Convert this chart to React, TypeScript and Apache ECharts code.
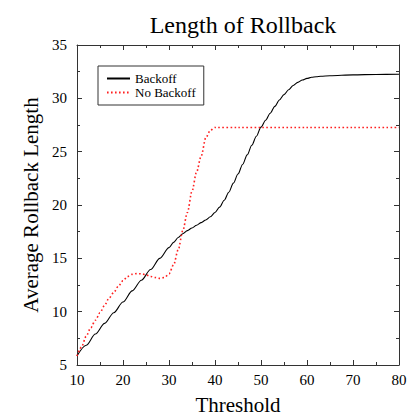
import React, { useEffect, useRef } from "react";
import * as echarts from "echarts";

const backoffX = [10, 12, 14, 16, 18, 20, 22, 24, 26, 28, 30, 31, 32, 33, 34, 35, 36, 37, 38, 39, 40, 41, 42, 43, 44, 45, 46, 47, 48, 49, 50, 51, 52, 53, 54, 55, 56, 57, 58, 59, 60, 61, 62, 63, 65, 70, 75, 80];
const backoffY = [5.85, 6.85, 7.9, 8.9, 9.9, 10.9, 11.95, 12.95, 13.95, 15.0, 16.0, 16.5, 16.95, 17.3, 17.6, 17.85, 18.1, 18.35, 18.6, 18.9, 19.3, 19.8, 20.45, 21.2, 22.05, 22.9, 23.8, 24.7, 25.6, 26.45, 27.3, 27.95, 28.6, 29.25, 29.85, 30.35, 30.8, 31.2, 31.5, 31.72, 31.87, 31.97, 32.03, 32.07, 32.12, 32.2, 32.24, 32.26];

const noBackoffX = [10, 11, 12, 13, 14, 15, 16, 17, 18, 19, 20, 21, 22, 23, 24, 25, 26, 27, 28, 29, 30, 31, 32, 33, 34, 35, 36, 37, 38, 39, 40, 45, 50, 60, 70, 80];
const noBackoffY = [5.85, 6.7, 7.7, 8.5, 9.2, 9.9, 10.6, 11.3, 11.8, 12.4, 12.9, 13.3, 13.5, 13.57, 13.55, 13.45, 13.3, 13.2, 13.12, 13.2, 13.55, 14.4, 15.8, 17.6, 19.3, 21.3, 23.1, 24.6, 26.3, 27.0, 27.27, 27.27, 27.27, 27.27, 27.27, 27.27];

const seriesNames = ["Backoff", "No Backoff"];
const titleText = "Length of Rollback";
const xName = "Threshold";
const yName = "Average Rollback Length";

const FONT = "Liberation Serif";
const AX = "#333333";

function zip(xs: number[], ys: number[]) {
  return xs.map((x, i) => [x, ys[i]]);
}

export default function App() {
  const ref = useRef<HTMLDivElement>(null);
  useEffect(() => {
    if (!ref.current) return;
    const chart = echarts.init(ref.current, undefined, { renderer: "svg" });
    const xBase = {
      type: "value" as const,
      min: 10,
      max: 80,
      interval: 10,
      splitLine: { show: false },
      axisLine: { show: true, onZero: false, lineStyle: { color: AX, width: 1 } },
      axisTick: { show: true, inside: true, length: 5, lineStyle: { color: AX } },
      minorTick: { show: true, splitNumber: 2, length: 3, lineStyle: { color: AX } },
    };
    const yBase = {
      type: "value" as const,
      min: 5,
      max: 35,
      interval: 5,
      splitLine: { show: false },
      axisLine: { show: true, onZero: false, lineStyle: { color: AX, width: 1 } },
      axisTick: { show: true, inside: true, length: 5, lineStyle: { color: AX } },
      minorTick: { show: true, splitNumber: 2, length: 3, lineStyle: { color: AX } },
    };
    chart.setOption({
      animation: false,
      backgroundColor: "#ffffff",
      title: {
        text: titleText,
        left: 238,
        textAlign: "center",
        top: 8,
        textStyle: { fontFamily: FONT, fontSize: 24, fontWeight: "normal", color: "#000" },
      },
      legend: {
        data: seriesNames,
        orient: "vertical",
        left: 98,
        top: 66,
        padding: [6, 8, 6, 8],
        itemGap: 1,
        itemWidth: 23,
        itemHeight: 12,
        backgroundColor: "#fff",
        borderColor: "#333",
        borderWidth: 1,
        borderRadius: 0,
        itemStyle: { opacity: 0 },
        textStyle: { fontFamily: FONT, fontSize: 13, color: "#000" },
      },
      grid: { left: 77, right: 11, top: 45, bottom: 54 },
      xAxis: [
        {
          ...xBase,
          position: "bottom",
          name: xName,
          nameLocation: "middle",
          nameGap: 29,
          nameTextStyle: { fontFamily: FONT, fontSize: 21, color: "#000" },
          axisLabel: { show: true, margin: 7, fontFamily: FONT, fontSize: 15, color: "#000" },
        },
        { ...xBase, position: "top", axisLabel: { show: false } },
      ],
      yAxis: [
        {
          ...yBase,
          position: "left",
          name: yName,
          nameLocation: "middle",
          nameGap: 34,
          nameTextStyle: { fontFamily: FONT, fontSize: 21, color: "#000" },
          axisLabel: { show: true, margin: 10, fontFamily: FONT, fontSize: 15, color: "#000" },
        },
        { ...yBase, position: "right", axisLabel: { show: false } },
      ],
      series: [
        {
          name: seriesNames[0],
          type: "line",
          xAxisIndex: 0,
          yAxisIndex: 0,
          data: zip(backoffX, backoffY),
          symbol: "none",
          smooth: 0.3,
          smoothMonotone: "x",
          lineStyle: { color: "#000", width: 1.1, type: "solid" },
          itemStyle: { color: "rgba(0,0,0,0)", borderWidth: 0 },
        },
        {
          name: seriesNames[1],
          type: "line",
          xAxisIndex: 0,
          yAxisIndex: 0,
          data: zip(noBackoffX, noBackoffY),
          symbol: "none",
          smooth: 0.3,
          smoothMonotone: "x",
          lineStyle: { color: "#ff2020", width: 1.6, type: [1.6, 2.4] },
          itemStyle: { color: "rgba(0,0,0,0)", borderWidth: 0 },
        },
      ],
    });
    return () => chart.dispose();
  }, []);
  return (
    <div
      ref={ref}
      style={{ position: "fixed", left: 0, top: 0, width: 410, height: 420, background: "#fff" }}
    />
  );
}
